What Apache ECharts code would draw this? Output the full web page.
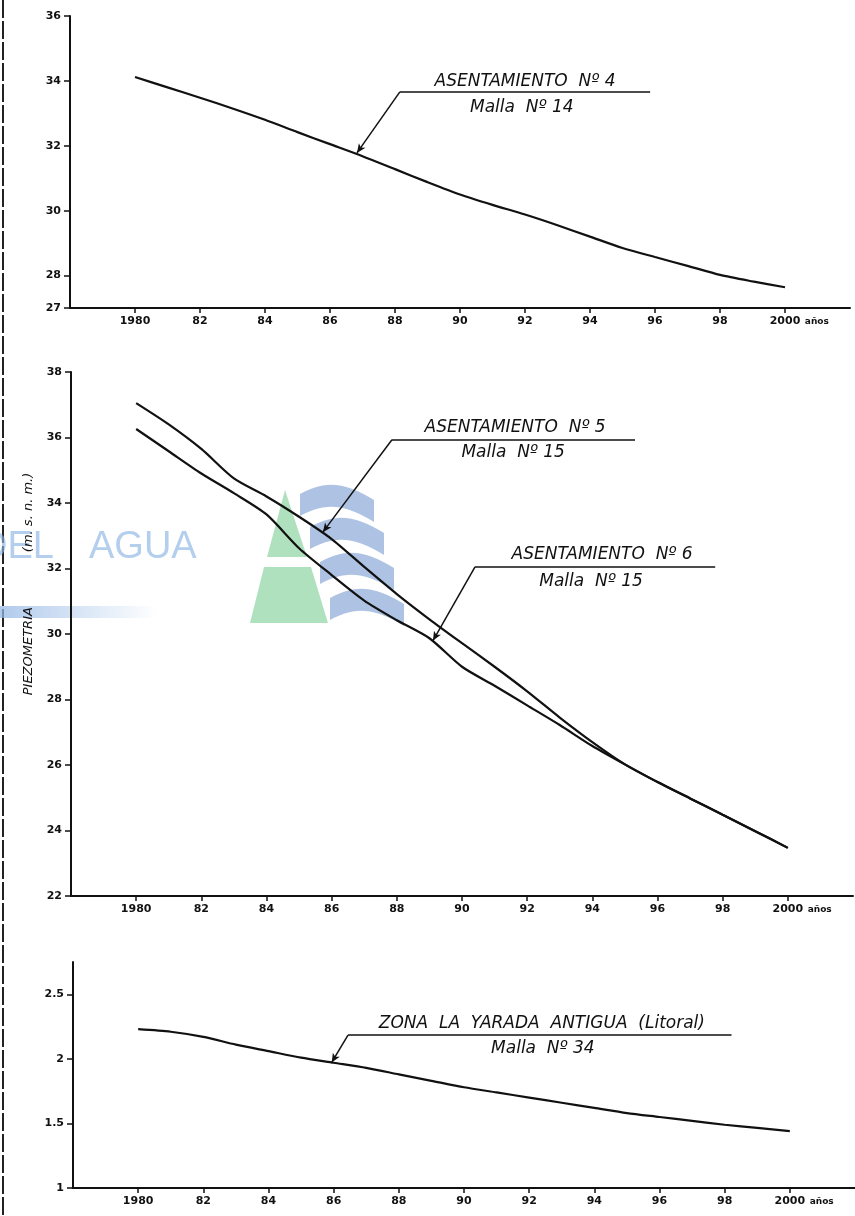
<!DOCTYPE html>
<html>
<head>
<meta charset="utf-8">
<script src="https://cdn.jsdelivr.net/npm/echarts@6.0.0/dist/echarts.min.js"></script>
<style>
html,body{margin:0;padding:0;background:#fff;}
#chart{width:855px;height:1216px;}
</style>
</head>
<body>
<div id="chart"></div>
<script>
// ---------------- data ----------------
const years = [1980,1981,1982,1983,1984,1985,1986,1987,1988,1989,1990,1991,1992,1993,1994,1995,1996,1997,1998,1999,2000];
const asent4 = [34.12,33.80,33.48,33.15,32.80,32.42,32.05,31.68,31.28,30.88,30.50,30.18,29.88,29.55,29.20,28.85,28.57,28.30,28.02,27.82,27.64];
const asent5 = [37.05,36.40,35.65,34.75,34.20,33.58,32.90,32.05,31.22,30.45,29.72,29.00,28.25,27.45,26.70,26.02,25.48,24.98,24.48,23.98,23.47];
const asent6 = [36.26,35.58,34.90,34.30,33.65,32.62,31.80,31.02,30.42,29.87,29.00,28.42,27.82,27.22,26.58,26.02,25.48,24.98,24.48,23.98,23.47];
const yarada = [2.23,2.21,2.17,2.11,2.06,2.01,1.97,1.93,1.88,1.83,1.78,1.74,1.70,1.66,1.62,1.58,1.55,1.52,1.49,1.465,1.44];

const xTickYears = [1980,1982,1984,1986,1988,1990,1992,1994,1996,1998,2000];
const xTickLabels = ['1980','82','84','86','88','90','92','94','96','98','2000'];
const xUnit = 'años';
const yTicks1 = [27,28,30,32,34,36];
const yTicks2 = [22,24,26,28,30,32,34,36,38];
const yTicks3 = [1,1.5,2,2.5];
const yName = 'PIEZOMETRIA';
const yUnit = '(m. s. n. m.)';

// annotations (anchors in data coordinates)
const notes = [
  {tip:[1986.83,31.78], knee:[1988.15,33.66], end:[1995.85,33.66],
   title:'ASENTAMIENTO  Nº 4', titleAt:[1992.0,33.99], sub:'Malla  Nº 14', subAt:[1991.9,33.17]},
  {tip:[1985.73,33.11], knee:[1987.85,35.93], end:[1995.31,35.93],
   title:'ASENTAMIENTO  Nº 5', titleAt:[1991.63,36.30], sub:'Malla  Nº 15', subAt:[1991.57,35.53]},
  {tip:[1989.11,29.80], knee:[1990.40,32.05], end:[1997.77,32.05],
   title:'ASENTAMIENTO  Nº 6', titleAt:[1994.30,32.42], sub:'Malla  Nº 15', subAt:[1993.96,31.59]},
  {tip:[1985.94,1.972], knee:[1986.44,2.184], end:[1998.21,2.184],
   title:'ZONA  LA  YARADA  ANTIGUA  (Litoral)', titleAt:[1992.39,2.273], sub:'Malla  Nº 34', subAt:[1992.42,2.08]}
];

// ---------------- chart ----------------
const INK = '#111';
const labelFont = {color:INK, fontSize:11, fontWeight:'bold', fontFamily:'DejaVu Sans'};

function xAxisFor(gi){
  return {
    type:'value', gridIndex:gi, min:1978, max:2002,
    axisLine:{show:true, onZero:false, lineStyle:{color:INK, width:2}},
    axisTick:{show:true, length:5, customValues:xTickYears, lineStyle:{color:INK, width:1.5}},
    axisLabel:Object.assign({}, labelFont, {
      customValues:xTickYears, margin:8,
      formatter:function(v){
        const i = xTickYears.indexOf(v);
        const t = i >= 0 ? xTickLabels[i] : '';
        if (v === xTickYears[xTickYears.length-1]) return '{p|\u00a0}{b|' + t + '}{a|\u00a0' + xUnit + '}';
        return t;
      },
      rich:{
        p:{width:30, fontSize:9},
        b:{fontSize:11, fontWeight:'bold', fontFamily:'DejaVu Sans', color:INK},
        a:{fontSize:9, fontFamily:'DejaVu Sans', color:INK, width:30}
      }
    }),
    splitLine:{show:false}
  };
}
function yAxisFor(gi, min, max, ticks, extra){
  return Object.assign({
    type:'value', gridIndex:gi, min:min, max:max,
    axisLine:{show:true, lineStyle:{color:INK, width:2}},
    axisTick:{show:true, length:6, customValues:ticks, lineStyle:{color:INK, width:1.5}},
    axisLabel:Object.assign({}, labelFont, {customValues:ticks, margin:9}),
    splitLine:{show:false}
  }, extra || {});
}

const noteText = {fontFamily:'DejaVu Sans', fontStyle:'italic', fontSize:17, color:INK};

function lineSeries(idx, values, note){
  const s = {
    type:'line', xAxisIndex:idx[0], yAxisIndex:idx[1],
    data: years.map((y,i)=>[y, values[i]]),
    symbol:'none', smooth:0.25,
    lineStyle:{color:INK, width:2.2},
    animation:false, silent:true, z:5
  };
  if (note){
    s.markLine = {
      silent:true, animation:false, symbolSize:[6,9],
      label:{show:false},
      lineStyle:{color:INK, width:1.5, type:'solid'},
      data:[
        [{coord:note.knee, symbol:'none'}, {coord:note.tip, symbol:'arrow'}],
        [{coord:note.knee, symbol:'none'}, {coord:note.end, symbol:'none'}]
      ]
    };
    s.markPoint = {
      silent:true, animation:false,
      symbol:'circle', symbolSize:1, itemStyle:{color:'rgba(0,0,0,0)'},
      data:[
        {coord:note.titleAt, label:Object.assign({show:true, position:'inside', formatter:note.title}, noteText)},
        {coord:note.subAt, label:Object.assign({show:true, position:'inside', formatter:note.sub}, noteText)}
      ]
    };
  }
  return s;
}

// watermark wave band (decoration) as a polygon outline
function bandPts(x0,y0){
  const w=74,h=22,pts=[];
  const c=(a,b,c2,d,t)=>(1-t)**3*a+3*(1-t)**2*t*b+3*(1-t)*t*t*c2+t**3*d;
  for(let k=0;k<=16;k++){const t=k/16; pts.push([c(x0,x0+w*0.35,x0+w*0.6,x0+w,t), c(y0,y0-14,y0-12,y0+6,t)]);}
  for(let k=0;k<=16;k++){const t=k/16; pts.push([c(x0+w,x0+w*0.6,x0+w*0.35,x0,t), c(y0+h+6,y0+h-12,y0+h-14,y0+h,t)]);}
  return pts;
}

const option = {
  backgroundColor:'#ffffff',
  animation:false,
  grid:[
    {left:70, top:16, width:780, height:292, outerBoundsMode:'none', containLabel:false},
    {left:71, top:372, width:782, height:524, outerBoundsMode:'none', containLabel:false},
    {left:73, top:962, width:782, height:226, outerBoundsMode:'none', containLabel:false}
  ],
  xAxis:[xAxisFor(0), xAxisFor(1), xAxisFor(2)],
  yAxis:[
    yAxisFor(0, 27, 36, yTicks1),
    yAxisFor(1, 22, 38, yTicks2, {
      name:'{a|' + yName + '}{g|\u00a0}{b|' + yUnit + '}',
      nameLocation:'middle', nameGap:36,
      nameTextStyle:{
        padding:[0,0,0,100],
        rich:{
          a:{fontFamily:'DejaVu Sans', fontStyle:'italic', fontSize:13, color:INK},
          g:{width:55, fontSize:13},
          b:{fontFamily:'DejaVu Sans', fontStyle:'italic', fontSize:13, color:INK}
        }
      }
    }),
    yAxisFor(2, 1, 2.75, yTicks3)
  ],
  graphic:[
    {type:'line', z:0, silent:true, shape:{x1:3,y1:0,x2:3,y2:1216}, style:{stroke:'#222', lineWidth:2, lineDash:[18,3]}},
    {type:'rect', z:0, silent:true, shape:{x:0,y:606,width:158,height:12},
     style:{fill:{type:'linear',x:0,y:0,x2:1,y2:0,colorStops:[{offset:0,color:'rgba(150,185,230,0.75)'},{offset:1,color:'rgba(150,185,230,0)'}]}}},
    {type:'text', z:0, silent:true, x:54, y:548, style:{text:'DEL', align:'right', verticalAlign:'middle', font:'38px "Liberation Sans"', fill:'rgba(140,180,228,0.65)'}},
    {type:'text', z:0, silent:true, x:89, y:548, style:{text:'AGUA', align:'left', verticalAlign:'middle', font:'38px "Liberation Sans"', fill:'rgba(140,180,228,0.65)'}},
    {type:'polygon', z:0, silent:true, shape:{points:[[285,490],[267,557],[307,557]]}, style:{fill:'rgba(150,215,170,0.75)'}},
    {type:'polygon', z:0, silent:true, shape:{points:[[264,567],[311,567],[328,623],[250,623]]}, style:{fill:'rgba(150,215,170,0.75)'}},
    {type:'polygon', z:0, silent:true, shape:{points:bandPts(300,494)}, style:{fill:'rgba(140,170,215,0.7)'}},
    {type:'polygon', z:0, silent:true, shape:{points:bandPts(310,527)}, style:{fill:'rgba(140,170,215,0.7)'}},
    {type:'polygon', z:0, silent:true, shape:{points:bandPts(320,562)}, style:{fill:'rgba(140,170,215,0.7)'}},
    {type:'polygon', z:0, silent:true, shape:{points:bandPts(330,598)}, style:{fill:'rgba(140,170,215,0.7)'}}
  ],
  series:[
    lineSeries([0,0], asent4, notes[0]),
    lineSeries([1,1], asent5, notes[1]),
    lineSeries([1,1], asent6, notes[2]),
    lineSeries([2,2], yarada, notes[3])
  ]
};

const chart = echarts.init(document.getElementById('chart'), null, {renderer:'canvas'});
chart.setOption(option);
</script>
</body>
</html>
